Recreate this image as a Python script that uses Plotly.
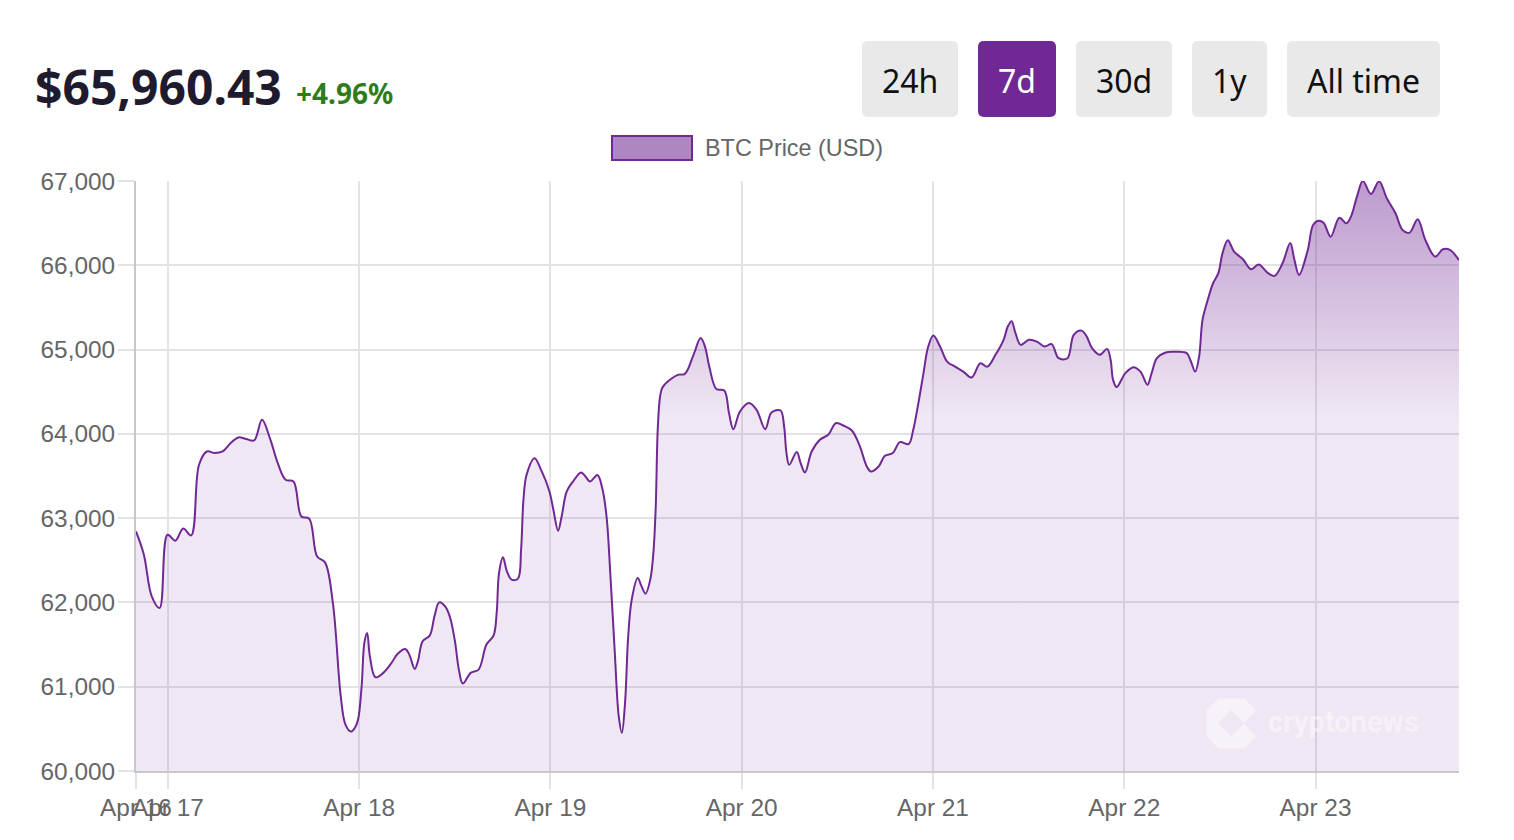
import pandas as pd
import plotly.graph_objects as go

# positions along the line in 168ths of the shown window, and price
positions = [0, 1, 2, 3, 4, 5, 6, 7, 8, 9, 10, 11, 12, 13, 14, 15, 16, 17, 18, 19, 20, 21, 22, 23, 24, 25, 26, 26.6,
             27.3, 27.8, 28.2, 28.65, 29, 29.35, 29.7, 30.4, 31.4, 32.5, 33.2, 34.2, 34.7, 35.4, 35.8, 36.4, 37.3, 37.9,
             38.5, 39.3, 39.9, 40.5, 41, 41.5, 42.5, 43.5, 44.5, 45.4, 45.8, 46.1, 46.6, 47.1, 47.7, 48.5, 48.9,
             49.2, 49.6, 50.6, 51.5, 52.5, 53, 53.6, 54.05, 54.7, 55.5, 56.5, 57, 57.65, 58.6, 59.2, 59.75, 60.25,
             60.8, 61.3, 61.7, 62.1, 62.5, 62.95, 63.7, 64.2, 64.7, 65.3, 65.7, 66, 66.25, 66.55, 66.85, 67.8,
             68.8, 69.7, 70.8, 71.7, 72.25, 72.8, 73.7, 74.7, 75.3, 75.85, 76.7, 77.85, 78.8, 79.9, 80.7, 81.85,
             82.3, 82.6, 82.95, 83.9, 84.4, 84.95, 85.8, 86.85, 87.9, 88.9, 89.9, 90.9, 91.85, 92.8, 93.3, 94.3,
             95.1, 96.1, 97, 98.1, 98.7, 99.35, 100, 100.6, 101.25, 102.1, 103, 104, 105.05, 106.1, 107.22, 108.1,
             109.14, 110.17, 110.7, 111.19, 111.68, 112.35, 113.37, 114.4, 115.38, 116.27, 117.16, 118.28, 119.08,
             120.06, 120.73, 121.4, 122.38, 123.31, 123.76, 124.07, 124.52, 125.63, 126.65, 127.55, 128.44,
             128.97, 129.64, 130.75, 131.87, 133.43, 133.96, 134.5, 135, 135.43, 136.1, 136.77, 137.44, 137.97,
             138.64, 139.44, 140.56, 141.58, 142.56, 143.68, 144.57, 145.59, 146.57, 147.1, 147.69, 148.8, 149.47,
             150.14, 150.8, 151.7, 152.81, 153.7, 154.28, 155.04, 155.8, 156.82, 157.85, 158.83, 159.94, 160.83,
             161.72, 162.75, 163.73, 164.98, 165.96, 166.85, 168]
prices = [62843, 62566, 62072, 61934, 62803, 62733, 62878, 62795, 63633, 63791, 63772, 63791, 63890, 63958,
          63938, 63922, 64167, 63950, 63653, 63455, 63435, 63020, 62993, 62546, 62475, 61994, 60887, 60551,
          60468, 60513, 60610, 61005, 61520, 61638, 61361, 61112, 61164, 61290, 61389, 61448, 61381, 61211, 61302,
          61539, 61606, 61835, 62001, 61946, 61816, 61539, 61203, 61037, 61164, 61203, 61500, 61606, 61875,
          62349, 62535, 62369, 62270, 62282, 62626, 63218, 63515, 63712, 63560, 63317, 63100, 62851, 63020,
          63317, 63435, 63542, 63503, 63435, 63511, 63357, 63020, 62309, 61405, 60650, 60453, 60808, 61598,
          62033, 62290, 62190, 62104, 62270, 62587, 63139, 64048, 64443, 64550, 64642, 64700, 64712, 64938,
          65136, 65036, 64798, 64531, 64514, 64246, 64056, 64265, 64365, 64285, 64056, 64253, 64277, 64087,
          63772, 63633, 63784, 63653, 63542, 63791, 63930, 63989, 64128, 64096, 64040, 63870, 63613, 63554,
          63613, 63740, 63772, 63902, 63878, 64048, 64365, 64720, 65036, 65166, 65036, 64858, 64798, 64739,
          64668, 64838, 64798, 64938, 65116, 65273, 65337, 65194, 65056, 65116, 65095, 65036, 65064, 64898,
          64898, 65175, 65225, 65154, 65016, 64938, 65008, 64879, 64642, 64555, 64720, 64791, 64739, 64582,
          64720, 64898, 64965, 64973, 64958, 64858, 64739, 64917, 65352, 65590, 65787, 65906, 66143, 66297,
          66162, 66072, 65953, 66008, 65913, 65874, 66024, 66265, 66064, 65886, 66182, 66478, 66529, 66506,
          66340, 66565, 66498, 66577, 66814, 67000, 66846, 66996, 66795, 66617, 66419, 66387, 66546, 66300,
          66103, 66190, 66182, 66060]

tick_dates = ["2024-04-16 20:00", "2024-04-17", "2024-04-18", "2024-04-19", "2024-04-20", "2024-04-21",
              "2024-04-22", "2024-04-23"]
tick_labels = ["Apr 16", "Apr 17", "Apr 18", "Apr 19", "Apr 20", "Apr 21", "Apr 22", "Apr 23"]

button_labels = ["24h", "7d", "30d", "1y", "All time"]
button_edges = [(862, 958), (978, 1056), (1076, 1172), (1192, 1267), (1287, 1440)]

PURPLE = "#702894"
LEFT, RIGHT, TOP, BOTTOM = 136, 1459, 181, 771.5
START = pd.Timestamp("2024-04-16 20:00")
WINDOW_HOURS = 166  # Apr 16 20:00 to Apr 23 18:00


# header, buttons and watermark are placed in page pixels
def px(x):
    return (x - LEFT) / (RIGHT - LEFT)


def py(y):
    return (BOTTOM - y) / (BOTTOM - TOP)


def round_rect(x0, x1, y0, y1, r=6):
    return (f"M {px(x0 + r)} {py(y0)} L {px(x1 - r)} {py(y0)} Q {px(x1)} {py(y0)} {px(x1)} {py(y0 + r)} "
            f"L {px(x1)} {py(y1 - r)} Q {px(x1)} {py(y1)} {px(x1 - r)} {py(y1)} "
            f"L {px(x0 + r)} {py(y1)} Q {px(x0)} {py(y1)} {px(x0)} {py(y1 - r)} "
            f"L {px(x0)} {py(y0 + r)} Q {px(x0)} {py(y0)} {px(x0 + r)} {py(y0)} Z")


def text(label, x, y, size, color, family="Noto Sans", anchor="center", weight="normal"):
    return dict(text=label, x=px(x), y=py(y), xref="paper", yref="paper", showarrow=False,
                xanchor=anchor, yanchor="middle", font=dict(family=family, size=size, color=color, weight=weight))


x_times = START + pd.to_timedelta([p / 168 * WINDOW_HOURS for p in positions], unit="h")

fig = go.Figure()
fig.add_trace(go.Scatter(
    x=x_times, y=prices, mode="lines", name="BTC Price (USD)",
    line=dict(color=PURPLE, width=2, shape="spline", smoothing=1.0),
    fill="tozeroy",
    fillgradient=dict(type="vertical", start=60000, stop=67000, colorscale=[
        [0, "rgba(112,40,148,0.11)"], [0.6, "rgba(112,40,148,0.11)"], [1, "rgba(112,40,148,0.47)"]]),
))

shapes = []
annotations = [
    text("$65,960.43", 33, 86, 48, "#1e1b2e", anchor="left", weight="bold"),
    text("+4.96%", 294, 93, 28, "#2f7d1a", anchor="left", weight="bold"),
    text("BTC Price (USD)", 703, 148, 23.4, "#666666", family="Liberation Sans", anchor="left"),
    text("cryptonews", 1266, 722, 29, "rgba(255,255,255,0.45)", family="Roboto", anchor="left", weight="bold"),
]
for label, (x0, x1) in zip(button_labels, button_edges):
    active = label == "7d"
    shapes.append(dict(type="path", xref="paper", yref="paper", path=round_rect(x0, x1, 41, 117),
                       fillcolor=PURPLE if active else "#e9e9e9", line=dict(width=0)))
    annotations.append(text(label, (x0 + x1) / 2, 80, 32, "white" if active else "#111111"))

# legend swatch
shapes.append(dict(type="rect", xref="paper", yref="paper", x0=px(612), x1=px(692), y0=py(160), y1=py(136),
                   fillcolor="#ae87c2", line=dict(color=PURPLE, width=2)))

# watermark logo
logo = [(70, 27), (148, 27), (183, 62), (148, 100), (108, 62), (70, 100), (108, 140), (148, 103), (183, 140),
        (148, 177), (70, 177), (35, 140), (35, 62)]
logo_path = "M " + " L ".join(f"{px(1195 + a / 3)} {py(690 + b / 3)}" for a, b in logo) + " Z"
shapes.append(dict(type="path", xref="paper", yref="paper", path=logo_path,
                   fillcolor="rgba(255,255,255,0.45)", line=dict(width=0)))

fig.update_layout(
    width=1514, height=840, autosize=False, showlegend=False,
    paper_bgcolor="white", plot_bgcolor="white",
    margin=dict(l=LEFT, r=1514 - RIGHT, t=TOP, b=840 - BOTTOM, pad=0),
    shapes=shapes, annotations=annotations,
    font=dict(family="Liberation Sans", size=24.4, color="#666666"),
)
fig.update_xaxes(
    range=[x_times[0], x_times[-1]], tickmode="array", tickvals=tick_dates, ticktext=tick_labels, tickangle=0,
    showgrid=True, gridcolor="#e3e3e3", gridwidth=2, ticks="outside", ticklen=16, tickwidth=2, tickcolor="#e3e3e3",
    showline=True, linecolor="#c8c8c8", linewidth=2, ticklabelstandoff=-2,
)
fig.update_yaxes(
    range=[60000, 67000], dtick=1000, tickformat=",",
    showgrid=True, gridcolor="#e3e3e3", gridwidth=2, ticks="outside", ticklen=16, tickwidth=2, tickcolor="#e3e3e3",
    showline=True, linecolor="#c8c8c8", linewidth=2, zeroline=False, ticklabelstandoff=-2,
)

fig.write_html("out.html", config={"displayModeBar": False}, post_script="document.body.style.margin = '0';")
